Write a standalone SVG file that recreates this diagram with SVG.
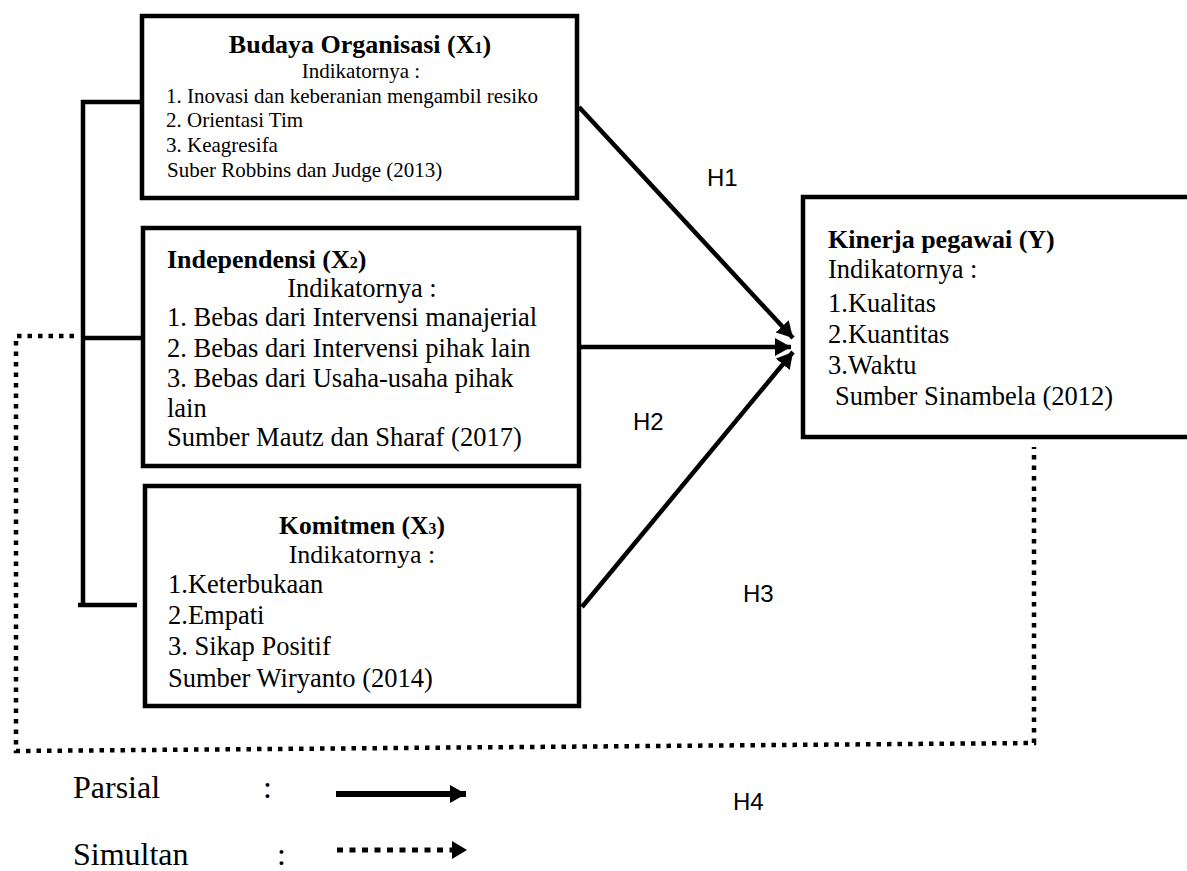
<svg xmlns="http://www.w3.org/2000/svg" width="1187" height="871" viewBox="0 0 1187 871">
<style>
.box{fill:#fff;stroke:#000;stroke-width:4.5}
.t{font-family:"Liberation Serif","Times New Roman",serif;fill:#000}
.b{font-weight:bold}
.s21{font-size:21px}
.s26{font-size:26.5px}
.h{font-family:"Liberation Sans",Arial,sans-serif;font-size:24px;fill:#000}
.sub{font-size:0.62em}
.ln{fill:none;stroke:#000;stroke-width:4.5}
.dot{fill:none;stroke:#000;stroke-width:4.5;stroke-dasharray:4.5 6}
</style>
<defs>
<marker id="ah" markerUnits="userSpaceOnUse" markerWidth="17" markerHeight="18" refX="16" refY="9" orient="auto">
<path d="M0,0 L16,9 L0,18 z" fill="#000"/>
</marker>
</defs>
<rect width="1187" height="871" fill="#fff"/>

<g id="connectors">
<path class="ln" d="M140,102 H83 V605"/>
<path class="ln" d="M78,605 H137"/>
<path class="ln" d="M83,338 H143"/>
<path class="dot" d="M74,336 H16 V751 L1034,743 V447"/>
<line class="ln" x1="579" y1="107" x2="793" y2="338" marker-end="url(#ah)"/>
<line class="ln" x1="581" y1="347" x2="791" y2="347" marker-end="url(#ah)"/>
<line class="ln" x1="582" y1="607" x2="793" y2="352" marker-end="url(#ah)"/>
</g>

<g id="labels">
<text class="h" x="707" y="186">H1</text>
<text class="h" x="633" y="430">H2</text>
<text class="h" x="743" y="602">H3</text>
<text class="h" x="733" y="810">H4</text>
</g>

<g id="node-x1">
<rect class="box" x="142" y="16" width="435" height="182"/>
<text class="t b" x="360" y="53" font-size="26" text-anchor="middle">Budaya Organisasi (X<tspan class="sub">1</tspan>)</text>
<text class="t s21" x="361" y="78" text-anchor="middle">Indikatornya :</text>
<text class="t s21" x="166" y="103">1. Inovasi dan keberanian mengambil resiko</text>
<text class="t s21" x="166" y="127">2. Orientasi Tim</text>
<text class="t s21" x="166" y="152">3. Keagresifa</text>
<text class="t s21" x="167" y="177">Suber Robbins dan Judge (2013)</text>
</g>

<g id="node-x2">
<rect class="box" x="143" y="228" width="436" height="238"/>
<text class="t b" x="167" y="268" font-size="26">Independensi (X<tspan class="sub">2</tspan>)</text>
<text class="t s26" x="362" y="297" text-anchor="middle">Indikatornya :</text>
<text class="t s26" x="167" y="326">1. Bebas dari Intervensi manajerial</text>
<text class="t s26" x="167" y="357">2. Bebas dari Intervensi pihak lain</text>
<text class="t s26" x="167" y="387">3. Bebas dari Usaha-usaha pihak</text>
<text class="t s26" x="167" y="417">lain</text>
<text class="t s26" x="167" y="446">Sumber Mautz dan Sharaf (2017)</text>
</g>

<g id="node-x3">
<rect class="box" x="145" y="486" width="434" height="220"/>
<text class="t b" x="362" y="534" font-size="25.5" text-anchor="middle">Komitmen (X<tspan class="sub">3</tspan>)</text>
<text class="t" x="362" y="563" font-size="26" text-anchor="middle">Indikatornya :</text>
<text class="t s26" x="168" y="593">1.Keterbukaan</text>
<text class="t s26" x="168" y="624">2.Empati</text>
<text class="t s26" x="168" y="655">3. Sikap Positif</text>
<text class="t s26" x="168" y="687">Sumber Wiryanto (2014)</text>
</g>

<g id="node-y">
<rect class="box" x="803" y="197" width="400" height="240"/>
<text class="t b" x="828" y="248" font-size="26">Kinerja pegawai (Y)</text>
<text class="t s26" x="828" y="278">Indikatornya :</text>
<text class="t s26" x="828" y="312">1.Kualitas</text>
<text class="t s26" x="828" y="343">2.Kuantitas</text>
<text class="t s26" x="828" y="374">3.Waktu</text>
<text class="t s26" x="835" y="405">Sumber Sinambela (2012)</text>
</g>

<g id="legend">
<text class="t" x="73" y="798" font-size="32">Parsial</text>
<text class="t" x="263" y="798" font-size="32">:</text>
<line x1="336" y1="794" x2="466" y2="794" stroke="#000" stroke-width="6" marker-end="url(#ah)"/>
<text class="t" x="73" y="865" font-size="32">Simultan</text>
<text class="t" x="277" y="865" font-size="32">:</text>
<line x1="337" y1="850" x2="452" y2="850" stroke="#000" stroke-width="5" stroke-dasharray="6 6.5"/>
<path d="M452,841 L467,850 L452,859 z" fill="#000"/>
</g>
</svg>
